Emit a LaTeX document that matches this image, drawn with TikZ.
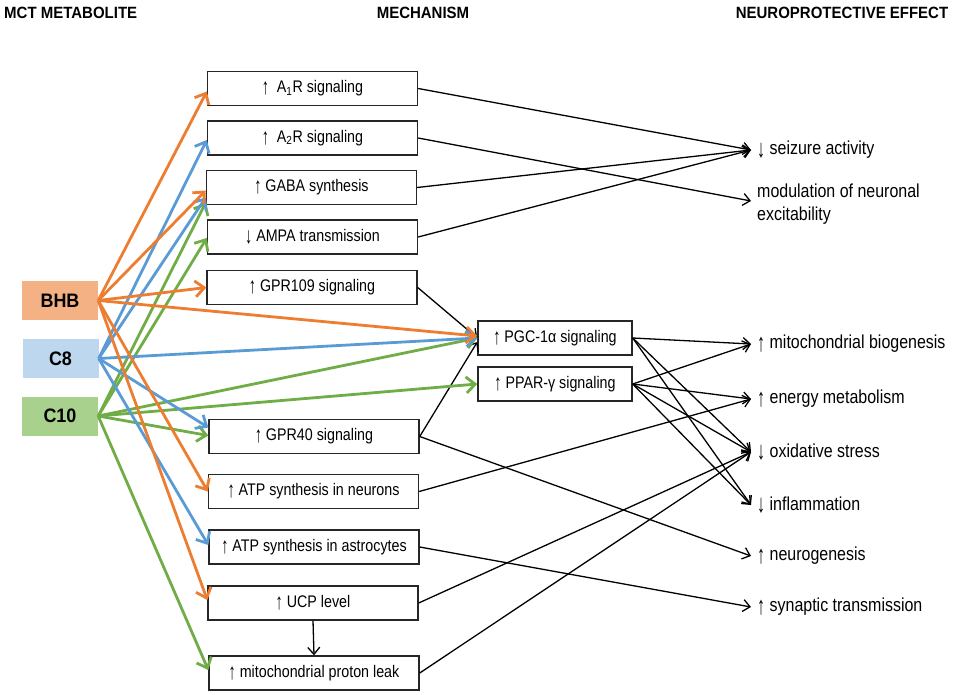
\documentclass[tikz,border=0pt]{standalone}
\usepackage{graphicx}
\usepackage{fontspec}
\setmainfont{Liberation Sans}
\newfontfamily\narrowfont[FakeStretch=0.85]{Liberation Sans}
\newfontfamily\hdrfont[FakeStretch=0.92]{Liberation Sans}
\newcommand{\uarr}{\raisebox{-0.12em}{\scalebox{1}[1.35]{↑}}}
\newcommand{\darr}{\raisebox{-0.12em}{\scalebox{1}[1.35]{↓}}}
\usetikzlibrary{arrows.meta}
\definecolor{orA}{HTML}{ED7D31}
\definecolor{blA}{HTML}{5B9BD5}
\definecolor{grA}{HTML}{70AD47}
\definecolor{bhbF}{HTML}{F4B183}
\definecolor{cEightF}{HTML}{BDD7EE}
\definecolor{cTenF}{HTML}{A9D18E}
\begin{document}
\begin{tikzpicture}[x=1pt,y=-1pt,
  mech/.style={draw=black!85, line width=1.4pt, minimum width=210pt, minimum height=34pt, inner sep=0pt, font=\narrowfont\fontsize{16.8}{20}\selectfont},
  hub/.style={mech, minimum width=154pt},
  src/.style={minimum width=76pt, minimum height=39pt, inner sep=0pt, font=\hdrfont\bfseries\fontsize{19.5}{21}\selectfont},
  eff/.style={anchor=west, inner sep=0pt, font=\narrowfont\fontsize{18.8}{23}\selectfont},
  hdr/.style={inner sep=0pt, font=\hdrfont\bfseries\fontsize{16.3}{18}\selectfont},
  carr/.style={line width=2.8pt, -{Straight Barb[length=9pt,width=16pt]}},
  barr/.style={line width=1.3pt, -{Straight Barb[length=7pt,width=12pt]}},
]
\useasboundingbox (0,0) rectangle (957,695);
% headers
\node[hdr, anchor=west] (h1) at (4,13) {MCT METABOLITE};
\node[hdr] (h2) at (423,13) {MECHANISM};
\node[hdr] (h3) at (842,13) {NEUROPROTECTIVE EFFECT};
% sources
\node[src, fill=bhbF] (bhb) at (60,300.5) {BHB};
\node[src, fill=cEightF] (c8) at (60.5,358.5) {C8};
\node[src, fill=cTenF] (c10) at (60,416) {C10};
% mechanisms
\node[mech] (m1) at (312.5,88.5) {\uarr\ \ A\textsubscript{1}R signaling};
\node[mech] (m2) at (312.5,138) {\uarr\ \ A\textsubscript{2}R signaling};
\node[mech] (m3) at (311.5,187.5) {\uarr\ GABA synthesis};
\node[mech] (m4) at (312.5,237) {\darr\ AMPA transmission};
\node[mech] (m5) at (312,287.5) {\uarr\ GPR109 signaling};
\node[mech] (m6) at (314,436.5) {\uarr\ GPR40 signaling};
\node[mech] (m7) at (313.5,491.5) {\uarr\ ATP synthesis in neurons};
\node[mech] (m8) at (314,547) {\uarr\ ATP synthesis in astrocytes};
\node[mech] (m9) at (313,603) {\uarr\ UCP level};
\node[mech] (m10) at (314,673) {\uarr\ mitochondrial proton leak};
\node[hub] (pgc) at (555,338) {\uarr\ PGC-1α signaling};
\node[hub] (ppar) at (555,384) {\uarr\ PPAR-γ signaling};
% effects
\coordinate (tseiz) at (751,150);
\coordinate (tmod) at (751,201);
\coordinate (tmito) at (751,344);
\coordinate (tener) at (751,399);
\coordinate (toxid) at (751,452);
\coordinate (tinfl) at (751,505);
\coordinate (tneur) at (751,556);
\coordinate (tsyn) at (751,607);
\node[eff] (seiz) at (757,150) {\darr\ seizure activity};
\node[eff, align=left] (mod) at (757,204) {modulation of neuronal\\excitability};
\node[eff] (mito) at (757,344) {\uarr\ mitochondrial biogenesis};
\node[eff] (ener) at (757,399) {\uarr\ energy metabolism};
\node[eff] (oxid) at (757,452) {\darr\ oxidative stress};
\node[eff] (infl) at (757,505) {\darr\ inflammation};
\node[eff] (neur) at (757,556) {\uarr\ neurogenesis};
\node[eff] (syn) at (757,607) {\uarr\ synaptic transmission};
% black connectors
\draw[barr] (m1.east) -- (tseiz);
\draw[barr] (m2.east) -- (tmod);
\draw[barr] (m3.east) -- (tseiz);
\draw[barr] (m4.east) -- (tseiz);
\draw[barr] (m5.east) -- (pgc.west);
\draw[barr] (m6.east) -- ([yshift=-4pt]pgc.west);
\draw[barr] (m6.east) -- (tneur);
\draw[barr] (m7.east) -- (tener);
\draw[barr] (m8.east) -- (tsyn);
\draw[barr] (m9.east) -- (toxid);
\draw[barr] (m10.east) -- (toxid);
\draw[barr] (m9.south) -- (m10.north);
\draw[barr] (pgc.east) -- (tmito);
\draw[barr] (pgc.east) -- (toxid);
\draw[barr] (pgc.east) -- (tinfl);
\draw[barr] (ppar.east) -- (tmito);
\draw[barr] (ppar.east) -- (tener);
\draw[barr] (ppar.east) -- (toxid);
\draw[barr] (ppar.east) -- (tinfl);
% coloured connectors
\draw[carr, grA] (c10.east) -- ([yshift=-15pt]m3.west);
\draw[carr, grA] (c10.east) -- ([yshift=-1pt]m4.west);
\draw[carr, grA] (c10.east) -- (pgc.west);
\draw[carr, grA] (c10.east) -- (ppar.west);
\draw[carr, grA] (c10.east) -- ([yshift=1pt]m6.west);
\draw[carr, grA] (c10.east) -- ([yshift=3pt]m10.west);
\draw[carr, blA] (c8.east) -- ([yshift=-2pt]m2.west);
\draw[carr, blA] (c8.east) -- ([yshift=-10pt]m3.west);
\draw[carr, blA] (c8.east) -- (pgc.west);
\draw[carr, blA] (c8.east) -- ([yshift=9pt]m6.west);
\draw[carr, blA] (c8.east) -- ([yshift=2pt]m8.west);
\draw[carr, orA] (bhb.east) -- ([yshift=-3pt]m1.west);
\draw[carr, orA] (bhb.east) -- ([yshift=-3pt]m3.west);
\draw[carr, orA] (bhb.east) -- (m5.west);
\draw[carr, orA] (bhb.east) -- ([yshift=2pt]pgc.west);
\draw[carr, orA] (bhb.east) -- (m7.west);
\draw[carr, orA] (bhb.east) -- ([yshift=3pt]m9.west);
\end{tikzpicture}
\end{document}
